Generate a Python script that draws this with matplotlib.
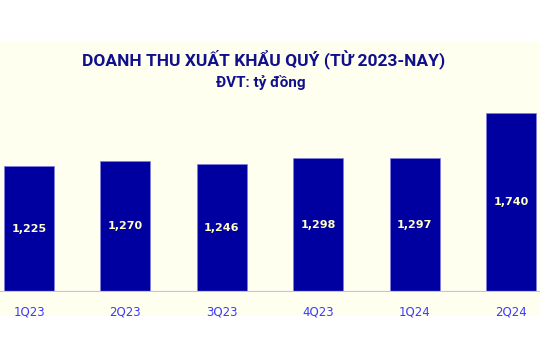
import matplotlib.pyplot as plt
from matplotlib.patches import Rectangle

quarters = ['1Q23', '2Q23', '3Q23', '4Q23', '1Q24', '2Q24']
revenue = [1225, 1270, 1246, 1298, 1297, 1740]
value_labels = ['1,225', '1,270', '1,246', '1,298', '1,297', '1,740']

bar_color = '#0000a0'
title_color = '#10108c'
tick_color = '#3a3aff'
label_color = '#ffffc8'
bg_color = '#fffff0'

fig = plt.figure(figsize=(5.4, 3.6), dpi=100)
fig.patches.append(Rectangle((0, 0.122), 1, 0.761, transform=fig.transFigure,
                             facecolor=bg_color, edgecolor='none', zorder=-10))

ax = fig.add_axes([0, 0.19, 1, 0.532])
ax.patch.set_alpha(0)
x = range(len(quarters))
bars = ax.bar(x, revenue, width=0.52, color=bar_color, edgecolor='#8080e0', linewidth=0.5)
ax.axhline(0, color='#c0c0ff', lw=1.6, zorder=3)

for xi, v, lab in zip(x, revenue, value_labels):
    ax.text(xi, v / 2, lab, ha='center', va='center', color=label_color,
            fontsize=8, fontweight='bold', family='DejaVu Sans')

ax.set_xlim(-0.301, 5.30)
ax.set_ylim(0, 1863)
ax.set_xticks(list(x))
ax.set_xticklabels(quarters, color=tick_color, fontsize=8.5, family='DejaVu Sans')
ax.tick_params(length=0, pad=10)
ax.set_yticks([])
for s in ax.spines.values():
    s.set_visible(False)

fig.text(0.488, 0.836, 'DOANH THU XUẤT KHẨU QUÝ (TỪ 2023-NAY)', ha='center', va='center',
         color=title_color, fontsize=12.5, fontweight='bold', family='Roboto')
fig.text(0.483, 0.77, 'ĐVT: tỷ đồng', ha='center', va='center',
         color=title_color, fontsize=11, fontweight='bold', family='Roboto')

fig.savefig('out.png', dpi=100)
